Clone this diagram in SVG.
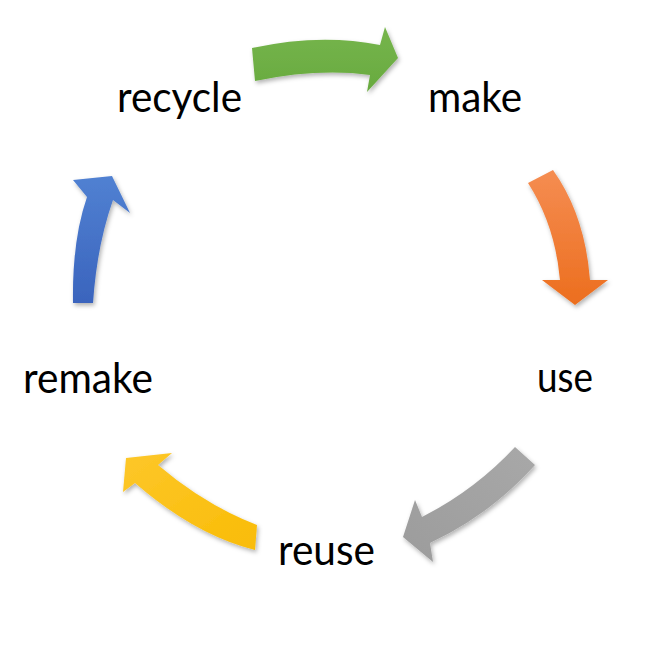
<svg xmlns="http://www.w3.org/2000/svg" width="658" height="658" viewBox="0 0 658 658">
  <defs>
    <filter id="sh" x="-20%" y="-20%" width="140%" height="140%">
      <feDropShadow dx="1.5" dy="2.5" stdDeviation="2" flood-color="#000" flood-opacity="0.3"/>
    </filter>
    <linearGradient id="gGreen" x1="0" y1="0" x2="0" y2="1">
      <stop offset="0" stop-color="#76B54C"/>
      <stop offset="1" stop-color="#68AA3F"/>
    </linearGradient>
    <linearGradient id="gOrange" x1="0" y1="0" x2="0" y2="1">
      <stop offset="0" stop-color="#F58D52"/>
      <stop offset="1" stop-color="#EC6E1E"/>
    </linearGradient>
    <linearGradient id="gGray" x1="1" y1="0" x2="0" y2="1">
      <stop offset="0" stop-color="#A8A8A8"/>
      <stop offset="1" stop-color="#9C9C9C"/>
    </linearGradient>
    <linearGradient id="gYellow" x1="0" y1="0" x2="1" y2="1">
      <stop offset="0" stop-color="#FDC72A"/>
      <stop offset="1" stop-color="#F9BC06"/>
    </linearGradient>
    <linearGradient id="gBlue" x1="0" y1="0" x2="0" y2="1">
      <stop offset="0" stop-color="#5181D2"/>
      <stop offset="1" stop-color="#3A64BD"/>
    </linearGradient>
  </defs>
  <style>
    .lbl { font-family: Lato, "Open Sans", "Liberation Sans", sans-serif; font-size: 42px; fill: #000; text-anchor: middle; }
    .arr { filter: url(#sh); stroke: none; }
  </style>
  <rect width="658" height="658" fill="#fff"/>
  <g id="connectors">
    <path class="arr" fill="url(#gGreen)" d="M252,48 Q320,33 380,45 L385,27 L398,58 L367,92 L370,75 Q318,68 255,81 Z"/>
    <path class="arr" fill="url(#gOrange)" d="M528,183 L553,170 Q585,215 590,280 L608,280 L575,305 L542,280 L560,280 Q555,225 528,183 Z"/>
    <path class="arr" fill="url(#gGray)" d="M515,447 L535,465 Q490,515 430,543 L433,562 L403,537 L415,500 L422,517 Q475,490 515,447 Z"/>
    <path class="arr" fill="url(#gYellow)" d="M257,525 L255,550 Q195,535 135,483 L123,492 L126,458 L172,453 L158,465 Q205,505 257,525 Z"/>
    <path class="arr" fill="url(#gBlue)" d="M73,303 Q72,240 87,197 L73,180 L112,176 L130,213 L113,200 Q97,245 93,303 Z"/>
  </g>
  <g id="node-make"><text class="lbl" x="475" y="112" textLength="94" lengthAdjust="spacingAndGlyphs">make</text></g>
  <g id="node-use"><text class="lbl" x="565" y="392" textLength="56" lengthAdjust="spacingAndGlyphs">use</text></g>
  <g id="node-reuse"><text class="lbl" x="326.5" y="565" textLength="97" lengthAdjust="spacingAndGlyphs">reuse</text></g>
  <g id="node-remake"><text class="lbl" x="88" y="393" textLength="130" lengthAdjust="spacingAndGlyphs">remake</text></g>
  <g id="node-recycle"><text class="lbl" x="179.5" y="112" textLength="125" lengthAdjust="spacingAndGlyphs">recycle</text></g>
</svg>
